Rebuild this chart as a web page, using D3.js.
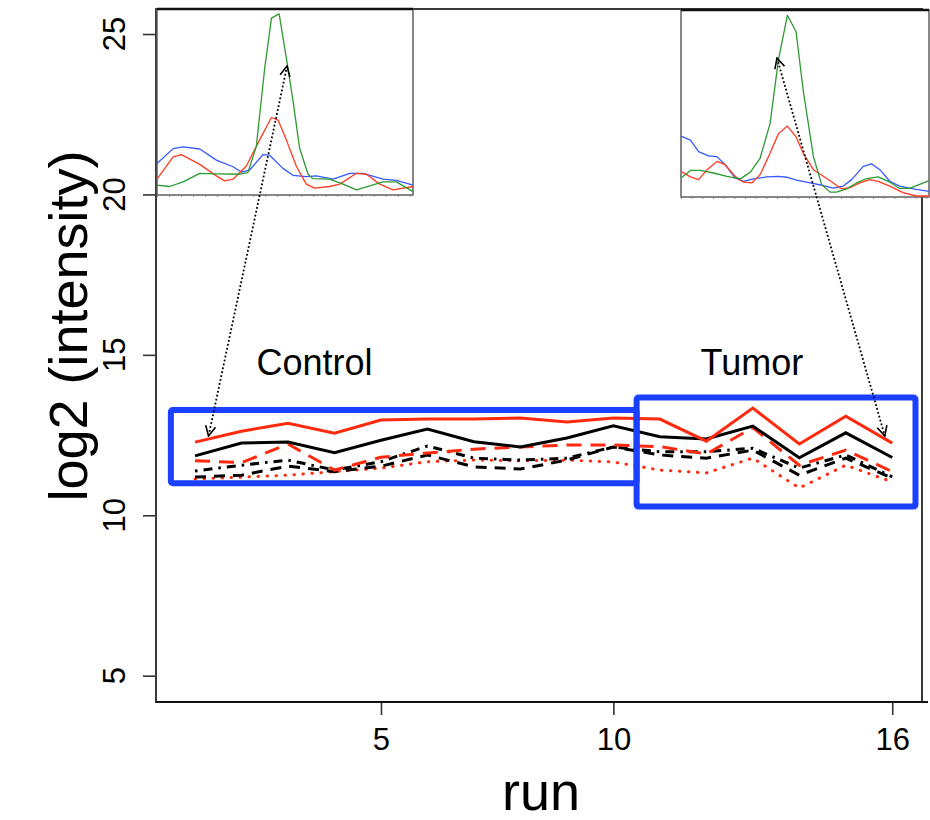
<!DOCTYPE html>
<html>
<head>
<meta charset="utf-8">
<script src="https://cdn.jsdelivr.net/npm/d3@7"></script>
<style>
  html, body { margin: 0; padding: 0; background: #fff; }
  svg { display: block; }
  text { font-family: "Liberation Sans", Arial, Helvetica, sans-serif; fill: #000; }
</style>
</head>
<body>
<svg id="chart" width="930" height="820"></svg>
<script>
// ---- main panel data: log2 intensity per run ----
const runs = [1, 2, 3, 4, 5, 6, 7, 8, 9, 10, 11, 12, 13, 14, 15, 16];
const xTickValues = [5, 10, 16];
const yTickValues = [5, 10, 15, 20, 25];

const redSolid     = [12.28, 12.62, 12.87, 12.56, 12.97, 13.00, 13.00, 13.03, 12.91, 13.03, 13.00, 12.31, 13.34, 12.22, 13.09, 12.25];
const blackSolid   = [11.85, 12.25, 12.28, 11.95, 12.34, 12.69, 12.29, 12.13, 12.41, 12.79, 12.45, 12.38, 12.78, 11.79, 12.57, 11.80];
const redDashed    = [11.70, 11.64, 12.22, 11.41, 11.81, 11.94, 12.06, 12.13, 12.19, 12.19, 12.14, 11.91, 12.73, 11.56, 12.03, 11.36];
const blackDotDash = [11.38, 11.56, 11.72, 11.41, 11.67, 12.16, 11.78, 11.72, 11.78, 12.13, 11.98, 11.98, 12.09, 11.47, 11.88, 11.20];
const blackDashed  = [11.19, 11.25, 11.53, 11.36, 11.53, 11.88, 11.51, 11.44, 11.72, 12.13, 11.88, 11.78, 12.03, 11.25, 11.78, 11.16];
const redDotted    = [11.13, 11.19, 11.25, 11.36, 11.47, 11.67, 11.72, 11.70, 11.72, 11.66, 11.41, 11.32, 11.78, 10.85, 11.56, 11.04];

// group frames: [run from, run to, log2 low, log2 high]
const groupNames  = ["Control", "Tumor"];
const groupFrames = [[0.48, 10.5, 11.0, 13.28], [10.5, 16.5, 10.27, 13.67]];

// ---- chromatogram insets: [retention time (0-100), relative intensity (0-100)] ----
const controlGreen = [[0,4.8],[4.9,4.1],[10.2,6.6],[16.7,11.3],[23.2,11.0],[32.3,10.8],[35.5,11.7],[38.8,26.0],[42.1,69.1],[44.7,96.1],[47.7,98.4],[50.5,74.5],[53.1,51.2],[55.7,25.1],[59.0,10.8],[60.9,8.4],[67.4,8.1],[72.7,5.4],[77.9,2.3],[83.1,4.5],[88.3,6.6],[93.5,6.6],[100,1.3]];
const controlRed   = [[0,8.1],[6.3,20.3],[9.5,21.5],[16.7,16.2],[23.2,9.9],[26.4,7.2],[29.7,8.1],[34.9,15.3],[40.1,29.6],[44.7,41.8],[47.3,40.4],[50.5,29.6],[54.4,15.3],[58.3,5.4],[61.6,3.2],[67.4,4.1],[71.4,5.4],[77.9,11.3],[81.8,10.8],[87.0,5.4],[92.2,2.3],[100,4.1]];
const controlBlue  = [[0,16.7],[6.3,24.8],[10.2,25.7],[16.7,24.6],[23.2,18.5],[29.7,14.9],[32.9,12.0],[36.2,13.1],[41.4,21.5],[44.0,21.2],[49.2,14.0],[53.1,10.2],[58.3,9.5],[62.2,9.9],[68.8,8.1],[75.3,11.3],[80.5,11.3],[88.3,8.1],[93.5,7.5],[100,4.8]];

const tumorGreen = [[0,9.8],[3.8,13.9],[7.8,13.9],[13.1,12.5],[18.5,10.7],[23.9,9.3],[27.9,12.9],[31.9,20.5],[35.9,39.3],[39.3,74.1],[42.9,98.2],[46.4,89.3],[49.3,57.1],[53.4,21.4],[56.7,6.3],[60.1,2.1],[62.7,2.1],[66.8,3.9],[70.8,7.1],[74.8,9.5],[79.5,10.4],[84.2,7.5],[88.2,4.1],[92.2,4.1],[100,8.4]];
const tumorRed   = [[0,13.4],[3.8,10.4],[7.1,8.9],[10.5,14.3],[14.5,18.8],[17.8,17.0],[21.8,10.7],[25.2,7.5],[28.6,7.1],[31.9,11.6],[35.9,23.2],[39.3,33.9],[42.9,38.0],[46.4,32.1],[49.3,23.2],[53.4,14.3],[57.4,10.7],[61.4,7.1],[64.7,3.9],[68.1,4.5],[72.1,7.1],[76.1,8.9],[79.5,8.0],[84.2,5.4],[89.5,1.8],[94.9,0],[100,0]];
const tumorBlue  = [[0,32.5],[3.8,30.4],[7.1,24.1],[11.1,21.8],[14.5,21.4],[17.8,17.0],[21.8,9.8],[25.2,8.0],[29.2,9.3],[34.6,10.4],[39.3,10.7],[42.6,10.2],[46.6,8.6],[52.0,7.1],[57.4,5.7],[61.4,4.3],[65.4,5.4],[68.8,8.9],[73.5,16.1],[76.8,17.5],[80.2,14.3],[84.2,8.0],[88.2,5.4],[93.6,3.9],[100,2.5]];

// arrows linking each chromatogram peak to its run: [run, log2] pairs
const arrowLinks = [
  [[2.98, 24.0], [1.29, 12.47]],
  [[13.52, 24.25], [15.84, 12.47]]
];

// ---- drawing ----
const RED = "#ff2a0d", BLACK = "#000", BLUE = "#1c40ff";
const svg = d3.select("#chart");
svg.append("rect").attr("width", 930).attr("height", 820).attr("fill", "#fff");

const plot = { left: 156, right: 922, top: 9, bottom: 702 };
const x = d3.scaleLinear().domain([0.16, 16.64]).range([plot.left, plot.right]);
const y = d3.scaleLinear().domain([4.18, 25.78]).range([plot.bottom, plot.top]);

// axes
const xAxis = d3.axisBottom(x).tickValues(xTickValues).tickSize(13).tickPadding(6).tickFormat(d3.format("d"));
const gx = svg.append("g").attr("transform", `translate(0,${plot.bottom})`).call(xAxis);
gx.select(".domain").remove();
gx.selectAll(".tick line").attr("stroke", "#333").attr("stroke-width", 1.6);
gx.selectAll(".tick text").attr("font-size", 31).attr("dy", "0.95em").attr("fill", "#000")
  .style("font-family", "Liberation Sans, Arial, sans-serif");

const gy = svg.append("g").attr("transform", `translate(${plot.left},0)`)
  .call(d3.axisLeft(y).tickValues(yTickValues).tickSize(13).tickFormat(""));
gy.select(".domain").remove();
gy.selectAll(".tick line").attr("stroke", "#333").attr("stroke-width", 1.6);
yTickValues.forEach(v => {
  svg.append("text")
    .attr("transform", `translate(125,${y(v)}) rotate(-90)`)
    .attr("text-anchor", "middle")
    .attr("font-size", 31)
    .text(v);
});

// plot frame
svg.append("rect")
  .attr("x", plot.left).attr("y", plot.top)
  .attr("width", plot.right - plot.left).attr("height", plot.bottom - plot.top)
  .attr("fill", "none").attr("stroke", "#3a3a3a").attr("stroke-width", 2);
svg.append("line")
  .attr("x1", plot.left).attr("x2", plot.right + 6)
  .attr("y1", plot.bottom).attr("y2", plot.bottom)
  .attr("stroke", "#111").attr("stroke-width", 2.2);

// axis titles
svg.append("text")
  .attr("transform", `translate(87,326) rotate(-90)`)
  .attr("text-anchor", "middle").attr("font-size", 54)
  .text("log2 (intensity)");
svg.append("text")
  .attr("x", 541).attr("y", 810)
  .attr("text-anchor", "middle").attr("font-size", 54)
  .text("run");

// run series
const series = [
  { values: redDotted,    color: RED,   dash: "0.5,8.5",     cap: "round" },
  { values: blackDashed,  color: BLACK, dash: "11,8",        cap: "butt" },
  { values: blackDotDash, color: BLACK, dash: "2.5,6,9,6",   cap: "butt" },
  { values: redDashed,    color: RED,   dash: "15,9",        cap: "butt" },
  { values: blackSolid,   color: BLACK, dash: null,          cap: "butt" },
  { values: redSolid,     color: RED,   dash: null,          cap: "butt" }
];
const runLine = d3.line().x((d, i) => x(runs[i])).y(d => y(d));
series.forEach(s => {
  svg.append("path")
    .attr("d", runLine(s.values))
    .attr("fill", "none")
    .attr("stroke", s.color)
    .attr("stroke-width", 3)
    .attr("stroke-linecap", s.cap)
    .attr("stroke-linejoin", "miter")
    .attr("stroke-dasharray", s.dash);
});

// group frames and labels
groupFrames.forEach((f, i) => {
  svg.append("rect")
    .attr("x", x(f[0])).attr("y", y(f[3]))
    .attr("width", x(f[1]) - x(f[0])).attr("height", y(f[2]) - y(f[3]))
    .attr("rx", 2).attr("ry", 2)
    .attr("fill", "none").attr("stroke", BLUE).attr("stroke-width", 6);
});
svg.append("text").attr("x", x(3.57)).attr("y", y(14.37))
  .attr("text-anchor", "middle").attr("font-size", 36).text(groupNames[0]);
svg.append("text").attr("x", x(12.98)).attr("y", y(14.37))
  .attr("text-anchor", "middle").attr("font-size", 36).text(groupNames[1]);

// chromatogram insets
function inset(box, traces, tickStep) {
  const g = svg.append("g");
  const tx = d3.scaleLinear().domain([0, 100]).range([box.x0, box.x1]);
  const ty = d3.scaleLinear().domain([0, 100]).range([box.y1 - 1, box.y0 + 2]);
  g.append("rect")
    .attr("x", box.x0).attr("y", box.y0)
    .attr("width", box.x1 - box.x0).attr("height", box.y1 - box.y0)
    .attr("fill", "#fff").attr("stroke", "#555").attr("stroke-width", 1.4);
  const ln = d3.line().x(d => tx(d[0])).y(d => ty(d[1]));
  traces.forEach(t => {
    g.append("path").attr("d", ln(t.data))
      .attr("fill", "none").attr("stroke", t.color).attr("stroke-width", 1.3)
      .attr("stroke-linejoin", "round");
  });
  g.append("g").attr("transform", `translate(0,${box.y1})`)
    .call(d3.axisBottom(tx).tickValues(d3.range(0, 100.01, tickStep)).tickSize(2).tickFormat(""))
    .call(a => a.select(".domain").remove())
    .selectAll(".tick line").attr("stroke", "#888").attr("stroke-width", 1);
  g.append("line")
    .attr("x1", box.x0).attr("x2", box.x1).attr("y1", box.y0).attr("y2", box.y0)
    .attr("stroke", "#111").attr("stroke-width", 2.4);
}
inset({ x0: 157, y0: 9, x1: 413, y1: 195 }, [
  { data: controlBlue,  color: "#3558ff" },
  { data: controlRed,   color: "#ff3b22" },
  { data: controlGreen, color: "#2e9a32" }
], 4.7);
inset({ x0: 681, y0: 10, x1: 929, y1: 197 }, [
  { data: tumorBlue,  color: "#3558ff" },
  { data: tumorRed,   color: "#ff3b22" },
  { data: tumorGreen, color: "#2e9a32" }
], 4.3);

// double-headed dotted arrows
const defs = svg.append("defs");
defs.append("marker")
  .attr("id", "head").attr("viewBox", "0 0 12 12")
  .attr("refX", 11).attr("refY", 6)
  .attr("markerWidth", 12).attr("markerHeight", 12)
  .attr("markerUnits", "userSpaceOnUse")
  .attr("orient", "auto-start-reverse")
  .append("path").attr("d", "M1,1 L11,6 L1,11")
  .attr("fill", "none").attr("stroke", "#000").attr("stroke-width", 1.6);
arrowLinks.forEach(a => {
  svg.append("line")
    .attr("x1", x(a[0][0])).attr("y1", y(a[0][1]))
    .attr("x2", x(a[1][0])).attr("y2", y(a[1][1]))
    .attr("stroke", "#000").attr("stroke-width", 1.8)
    .attr("stroke-dasharray", "1.8,2.2")
    .attr("marker-start", "url(#head)")
    .attr("marker-end", "url(#head)");
});
</script>
</body>
</html>
